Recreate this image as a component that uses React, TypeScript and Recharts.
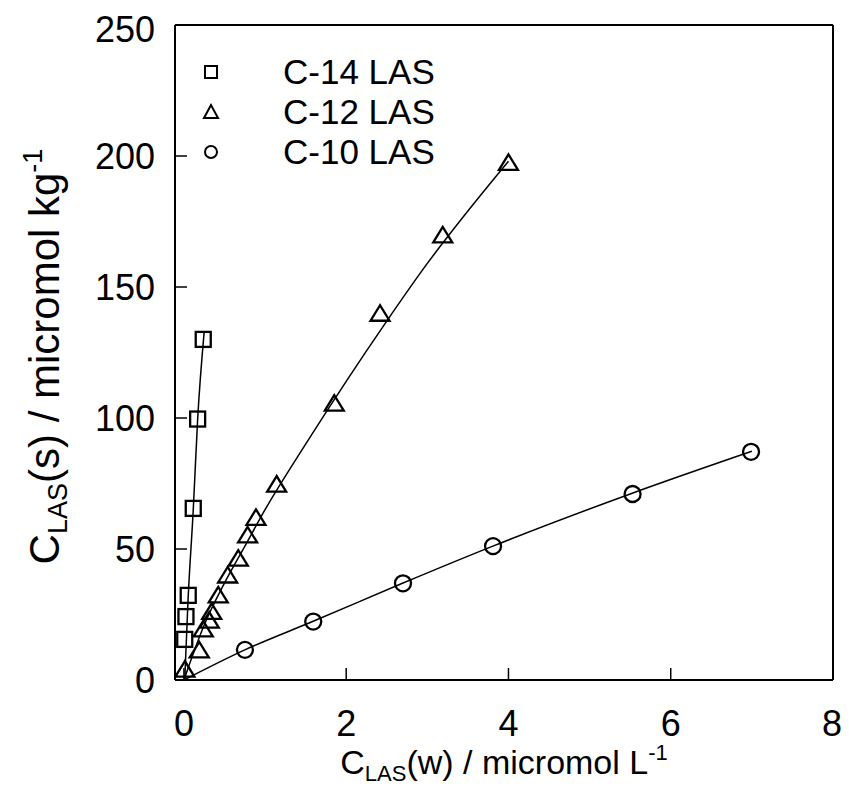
import React from 'react';
import { ComposedChart, Scatter, Line, XAxis, YAxis, Legend } from 'recharts';

const FONT = '"Liberation Sans", Arial, sans-serif';

// C-14 LAS observations
const c14X = [0.01, 0.025, 0.053, 0.115, 0.169, 0.238];
const c14Y = [15.5, 24.2, 32.3, 65.5, 99.6, 130];
// C-12 LAS observations
const c12X = [0.012, 0.189, 0.238, 0.312, 0.342, 0.423, 0.539, 0.67, 0.785, 0.888, 1.143, 1.853, 2.417, 3.19, 4.0];
const c12Y = [3.8, 11.1, 19.1, 22.5, 25.8, 32.1, 39.7, 46.1, 55.0, 61.7, 74.4, 105.3, 139.6, 169.5, 197.2];
// C-10 LAS observations
const c10X = [0.752, 1.594, 2.7, 3.81, 5.53, 6.99];
const c10Y = [11.5, 22.3, 36.9, 51.1, 71.0, 87.1];

// fitted curves
const fit14X = [0.01, 0.05, 0.115, 0.17, 0.25];
const fit14Y = [0, 30, 65, 100, 133];
const fit12X = [0, 0.25, 0.5, 0.75, 1.0, 1.5, 2.0, 2.5, 3.0, 3.5, 4.0];
const fit12Y = [0, 21, 37, 51, 65, 90, 114, 137, 159, 179, 198];
const fit10X = [0, 0.75, 1.6, 2.7, 3.8, 5.5, 7.0];
const fit10Y = [0, 11.5, 22.5, 37, 51, 71, 87.3];

const xTicks = [0, 2, 4, 6, 8];
const xTopTicks = [0, 2, 4, 6];
const yTicks = [0, 50, 100, 150, 200, 250];

const legendLabels = ['C-14 LAS', 'C-12 LAS', 'C-10 LAS'];

const zip = (xs: number[], ys: number[]) => xs.map((x, i) => ({ x, y: ys[i] }));

const d14 = zip(c14X, c14Y);
const d12 = zip(c12X, c12Y);
const d10 = zip(c10X, c10Y);
const f14 = zip(fit14X, fit14Y);
const f12 = zip(fit12X, fit12Y);
const f10 = zip(fit10X, fit10Y);

const SW = 2.3;

const Square = (p: any) => (
  <rect x={p.cx - 7.5} y={p.cy - 7.5} width={15} height={15} fill="none" stroke="#000" strokeWidth={SW} />
);
const Triangle = (p: any) => (
  <polygon
    points={`${p.cx},${p.cy - 9} ${p.cx - 9.5},${p.cy + 6.5} ${p.cx + 9.5},${p.cy + 6.5}`}
    fill="none"
    stroke="#000"
    strokeWidth={SW}
    strokeLinejoin="miter"
  />
);
const Circle = (p: any) => <circle cx={p.cx} cy={p.cy} r={8} fill="none" stroke="#000" strokeWidth={SW} />;

const icons = [
  <rect x={4} y={4} width={12} height={12} fill="none" stroke="#000" strokeWidth={2} />,
  <polygon points="10,3 3,16 17,16" fill="none" stroke="#000" strokeWidth={2} />,
  <circle cx={10} cy={10} r={6} fill="none" stroke="#000" strokeWidth={2} />,
];

const LegendBox = () => (
  <div style={{ fontFamily: FONT, fontSize: 35, color: '#000' }}>
    {legendLabels.map((l, i) => (
      <div key={l} style={{ height: 40, lineHeight: '40px', display: 'flex', alignItems: 'center', whiteSpace: 'nowrap' }}>
        <svg width={20} height={20} style={{ display: 'block' }}>
          {icons[i]}
        </svg>
        <span style={{ marginLeft: 62 }}>{l}</span>
      </div>
    ))}
  </div>
);

const XLabel = (props: any) => {
  const vb = props.viewBox;
  return (
    <text x={vb.x + vb.width / 2} y={vb.y + 94} textAnchor="middle" fontFamily={FONT} fontSize={34} fill="#000">
      <tspan>C</tspan>
      <tspan fontSize={22} dy={7}>LAS</tspan>
      <tspan dy={-7}>(w) / micromol L</tspan>
      <tspan fontSize={22} dy={-14}>-1</tspan>
    </text>
  );
};

const YLabel = (props: any) => {
  const vb = props.viewBox;
  const cx = 51;
  const cy = vb.y + vb.height / 2 + 4;
  return (
    <text
      x={cx}
      y={cy}
      transform={`rotate(-90, ${cx}, ${cy})`}
      textAnchor="middle"
      fontFamily={FONT}
      fontSize={42}
      fill="#000"
    >
      <tspan>C</tspan>
      <tspan fontSize={27} dy={8}>LAS</tspan>
      <tspan dy={-8}>(s) / micromol kg</tspan>
      <tspan fontSize={27} dy={-17}>-1</tspan>
    </text>
  );
};

const tickStyle = { fontSize: 36, fill: '#000', fontFamily: FONT };
const axisLine = { stroke: '#000', strokeWidth: 2 };
const tickLine = { stroke: '#000', strokeWidth: 1.5 };
const fitStroke = { stroke: '#000', strokeWidth: 1.5 };

export default function App() {
  return (
    <ComposedChart width={833} height={790} margin={{ top: 7, right: 0, bottom: 0, left: 0 }}>
      <XAxis
        xAxisId="b"
        type="number"
        dataKey="x"
        domain={[-0.11, 8]}
        allowDataOverflow
        ticks={xTicks}
        orientation="bottom"
        height={118}
        tickSize={-12}
        tickMargin={42}
        tick={tickStyle}
        axisLine={axisLine}
        tickLine={tickLine}
        label={{ content: <XLabel /> }}
      />
      <XAxis
        xAxisId="t"
        type="number"
        dataKey="x"
        domain={[-0.11, 8]}
        allowDataOverflow
        ticks={xTopTicks}
        orientation="top"
        height={10}
        tickSize={-12}
        tick={false}
        axisLine={axisLine}
        tickLine={tickLine}
      />
      <YAxis
        yAxisId="l"
        type="number"
        dataKey="y"
        domain={[0, 250]}
        allowDataOverflow
        ticks={yTicks}
        orientation="left"
        width={167}
        tickSize={-12}
        tickMargin={32}
        tick={tickStyle}
        axisLine={axisLine}
        tickLine={tickLine}
        label={{ content: <YLabel /> }}
      />
      <YAxis
        yAxisId="r"
        type="number"
        dataKey="y"
        domain={[0, 250]}
        allowDataOverflow
        ticks={yTicks}
        orientation="right"
        width={8}
        tickSize={-12}
        tick={false}
        axisLine={axisLine}
        tickLine={tickLine}
      />
      <Legend
        layout="vertical"
        align="center"
        verticalAlign="middle"
        content={<LegendBox />}
        wrapperStyle={{ left: 193, top: 44, width: 'auto', height: 'auto' }}
      />
      <Line xAxisId="b" yAxisId="l" data={f14} dataKey="y" type="monotone" dot={false} activeDot={false} {...fitStroke} isAnimationActive={false} legendType="none" />
      <Line xAxisId="b" yAxisId="l" data={f12} dataKey="y" type="monotone" dot={false} activeDot={false} {...fitStroke} isAnimationActive={false} legendType="none" />
      <Line xAxisId="b" yAxisId="l" data={f10} dataKey="y" type="monotone" dot={false} activeDot={false} {...fitStroke} isAnimationActive={false} legendType="none" />
      <Scatter xAxisId="b" yAxisId="l" name="C-14 LAS" data={d14} shape={Square} isAnimationActive={false} />
      <Scatter xAxisId="b" yAxisId="l" name="C-12 LAS" data={d12} shape={Triangle} isAnimationActive={false} />
      <Scatter xAxisId="b" yAxisId="l" name="C-10 LAS" data={d10} shape={Circle} isAnimationActive={false} />
    </ComposedChart>
  );
}
